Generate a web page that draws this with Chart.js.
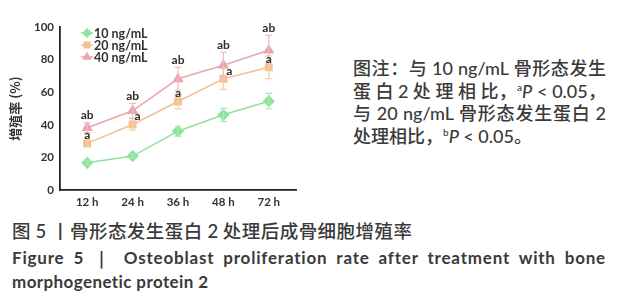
<!DOCTYPE html>
<html><head><meta charset="utf-8">
<script src="https://cdn.jsdelivr.net/npm/chart.js@4/dist/chart.umd.min.js"></script>
<style>
html,body{margin:0;padding:0;background:#fff;width:624px;height:300px;overflow:hidden;}
#wrap{position:absolute;left:0;top:0;width:312px;height:215px;}
.note{position:absolute;left:353px;width:253px;font-family:"Noto Sans CJK SC","Lato",sans-serif;font-size:18px;font-weight:500;color:#3a3a3a;white-space:nowrap;}
.note .l{height:22.7px;line-height:22.7px;text-align:justify;text-align-last:justify;}
.note .l4{text-align:left;text-align-last:left;}
.lat{font-family:Lato;}
.cap{position:absolute;left:12px;color:#3a3a3a;white-space:nowrap;}
sup{font-size:10px;vertical-align:7px;line-height:0;}
</style></head><body>
<div id="wrap"><canvas id="c" width="312" height="215"></canvas></div>
<div class="note" style="top:56px;">
<div class="l">图注：与 <span class="lat">10 ng/mL</span> 骨形态发生</div>
<div class="l">蛋 白 <span class="lat">2</span> 处 理 相 比，<sup class="lat">a</sup><i class="lat">P</i><span class="lat"> &lt; 0.05</span>，</div>
<div class="l">与 <span class="lat">20 ng/mL</span> 骨形态发生蛋白 <span class="lat">2</span></div>
<div class="l l4">处理相比，<sup class="lat">b</sup><i class="lat">P</i><span class="lat"> &lt; 0.05</span>。</div>
</div>
<div class="cap" style="top:219px;width:400px;font-family:'Noto Sans CJK SC';font-weight:500;font-size:18.5px;line-height:22px;text-align:justify;text-align-last:justify;">图 <span class="lat">5</span> 丨骨形态发生蛋白 <span class="lat">2</span> 处理后成骨细胞增殖率</div>
<div class="cap" style="top:247px;width:594px;font-family:Lato;font-weight:bold;font-size:17px;letter-spacing:0.8px;line-height:22px;text-align:justify;text-align-last:justify;">Figure 5 ｜ Osteoblast proliferation rate after treatment with bone</div>
<div class="cap" style="top:271px;font-family:Lato;font-weight:bold;font-size:17px;letter-spacing:0.4px;line-height:22px;">morphogenetic protein 2</div>
<script>
// ---- data ----
const timeLabels = ['12 h', '24 h', '36 h', '48 h', '72 h'];
const seriesNames = ['10 ng/mL', '20 ng/mL', '40 ng/mL'];
const rate10 = [16.7, 20.8, 36.1, 46.1, 54.5];
const err10  = [1.2, 1.2, 3.0, 4.0, 4.8];
const rate20 = [28.6, 40.2, 54.3, 68.2, 75.3];
const err20  = [2.0, 3.5, 4.5, 6.5, 7.0];
const rate40 = [38.2, 48.6, 68.2, 76.5, 85.7];
const err40  = [3.0, 4.5, 7.0, 8.0, 9.2];
const sig20  = ['a', 'a', 'a', 'a', 'a'];
const sig40  = ['ab', 'ab', 'ab', 'ab', 'ab'];
const yTicks = [0, 20, 40, 60, 80, 100];

const toPts = arr => arr.map((v, i) => ({x: i, y: v}));

const errorBars = {
  id: 'errorBars',
  afterDatasetsDraw(chart) {
    const {ctx, scales: {x, y}} = chart;
    chart.data.datasets.forEach((ds) => {
      ctx.save();
      ctx.strokeStyle = ds.errColor;
      ctx.lineWidth = 1.2;
      ds.data.forEach((p, i) => {
        const e = ds.errors[i];
        const px = x.getPixelForValue(p.x);
        const top = y.getPixelForValue(p.y + e), bot = y.getPixelForValue(p.y - e);
        ctx.beginPath();
        ctx.moveTo(px, top); ctx.lineTo(px, bot);
        ctx.moveTo(px - 3.5, top); ctx.lineTo(px + 3.5, top);
        ctx.moveTo(px - 3.5, bot); ctx.lineTo(px + 3.5, bot);
        ctx.stroke();
      });
      ctx.restore();
    });
  }
};

const sigLabels = {
  id: 'sigLabels',
  afterDatasetsDraw(chart, args, opts) {
    const {ctx, scales: {x, y}} = chart;
    ctx.save();
    ctx.font = 'bold 12px Lato';
    ctx.fillStyle = '#2e2e2e';
    ctx.textAlign = 'center';
    ctx.textBaseline = 'middle';
    timeLabels.forEach((_, i) => {
      const px = x.getPixelForValue(i);
      ctx.fillText(sig40[i], px, y.getPixelForValue(rate40[i] + err40[i]) - 7.5);
      ctx.fillText(sig20[i], px + opts.aShift[i], y.getPixelForValue(rate20[i]) - 8);
    });
    ctx.restore();
  }
};

const customLegend = {
  id: 'customLegend',
  afterDraw(chart) {
    const {ctx} = chart;
    ctx.save();
    chart.data.datasets.forEach((ds, i) => {
      const yy = 33 + i * 12;
      ctx.strokeStyle = ds.borderColor;
      ctx.lineWidth = 1.5;
      ctx.beginPath(); ctx.moveTo(81, yy); ctx.lineTo(93, yy); ctx.stroke();
      ctx.fillStyle = ds.pointBackgroundColor;
      ctx.strokeStyle = ds.pointBackgroundColor;
      Chart.helpers.drawPoint(ctx, {pointStyle: ds.pointStyle, radius: 4, borderWidth: 1}, 87, yy);
      ctx.fillStyle = '#333';
      ctx.font = 'bold 12.5px Lato';
      ctx.textBaseline = 'middle';
      ctx.textAlign = 'left';
      ctx.fillText(ds.label, 94, yy + 0.5);
    });
    ctx.restore();
  }
};

const mk = (label, data, errs, color, errColor, style, r) => ({
  label, data: toPts(data), errors: errs, errColor,
  borderColor: color, backgroundColor: color,
  pointBackgroundColor: color, pointBorderColor: color,
  pointStyle: style, pointRadius: r, pointHoverRadius: r,
  borderWidth: 1.6, tension: 0
});

new Chart(document.getElementById('c'), {
  type: 'line',
  data: {
    datasets: [
      mk(seriesNames[0], rate10, err10, '#8fe39c', '#a8e8b2', 'rectRot', 5),
      mk(seriesNames[1], rate20, err20, '#f3c38f', '#f3cfa8', 'rect', 4.5),
      mk(seriesNames[2], rate40, err40, '#eba5ae', '#efbcc2', 'triangle', 5)
    ]
  },
  options: {
    responsive: false,
    animation: false,
    events: [],
    layout: {padding: {top: 27, right: 16, left: 0, bottom: 0}},
    plugins: {legend: {display: false}, tooltip: {enabled: false},
      sigLabels: {aShift: [0, 5, 0, 6, 0]}},
    scales: {
      x: {
        type: 'linear', min: -0.6, max: 4.6,
        afterBuildTicks: s => { s.ticks = timeLabels.map((_, i) => ({value: i})); },
        afterFit: s => { s.height = 25; },
        grid: {display: false, drawTicks: true, tickLength: 4, tickColor: '#222', tickWidth: 1.5},
        border: {color: '#222', width: 1.8},
        ticks: {color: '#333', font: {family: 'Lato', size: 11.5, weight: 'bold'}, padding: 1,
          maxRotation: 0, callback: v => timeLabels[v]}
      },
      y: {
        min: 0, max: 100,
        afterBuildTicks: s => { s.ticks = yTicks.map(v => ({value: v})); },
        afterFit: s => { s.width = 60; },
        grid: {display: false, drawTicks: true, tickLength: 4, tickColor: '#222', tickWidth: 1.5},
        border: {color: '#222', width: 1.8},
        ticks: {color: '#333', font: {family: 'Lato', size: 11.5, weight: 'bold'}, padding: 2},
        title: {display: true, text: '增殖率 (%)', color: '#333', padding: {top: 7, bottom: 0},
          font: {family: 'Noto Sans CJK SC', size: 13, weight: 'bold'}}
      }
    }
  },
  plugins: [errorBars, sigLabels, customLegend]
});
</script>
</body></html>
